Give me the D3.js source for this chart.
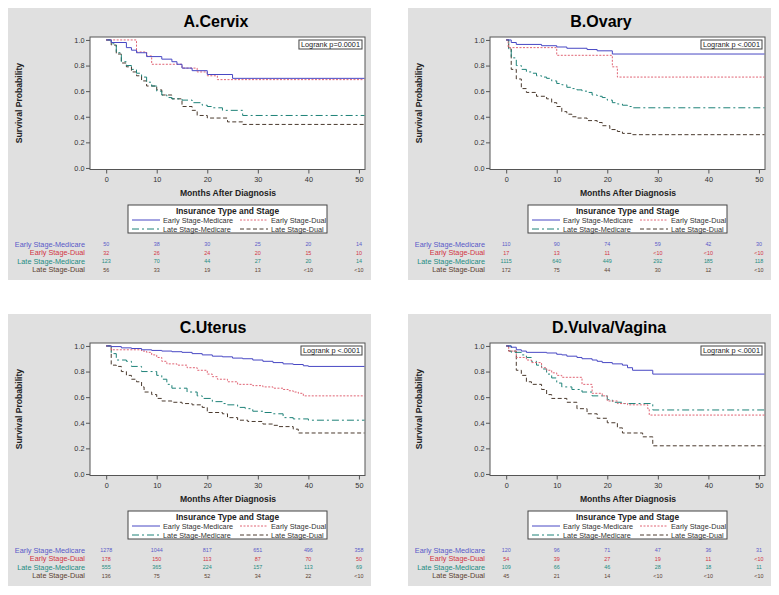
<!DOCTYPE html>
<html>
<head>
<meta charset="utf-8">
<script src="https://cdn.jsdelivr.net/npm/d3@7"></script>
<style>
  body { margin: 0; background: #fff; }
  svg text { font-family: "Liberation Sans", Arial, Helvetica, sans-serif; }
</style>
</head>
<body>
<div id="viz"></div>
<script>
// group names, in legend / risk table order
const groups = ["Early Stage-Medicare", "Early Stage-Dual", "Late Stage-Medicare", "Late Stage-Dual"];
const monthTicks = [0, 10, 20, 30, 40, 50];
const probTicks = [0, 0.2, 0.4, 0.6, 0.8, 1.0];

// A. Cervix  [month, survival]
const cervixEarlyMedicare = [[0,1],[1,0.98],[4,0.94],[5,0.92],[6,0.90],[8,0.87],[11,0.85],[13,0.83],[14,0.81],[15,0.78],[17,0.76],[20,0.73],[25,0.70]];
const cervixEarlyDual = [[0,1],[6,0.906],[8,0.875],[9,0.81],[15,0.78],[18,0.75],[20,0.72],[22,0.69]];
const cervixLateMedicare = [[0,1],[1,0.97],[2,0.90],[3,0.83],[4,0.80],[5,0.77],[6,0.74],[7,0.71],[8,0.67],[9,0.64],[10,0.60],[11,0.57],[12,0.55],[13,0.54],[15,0.53],[17,0.51],[19,0.49],[20,0.48],[21,0.47],[23,0.45],[27,0.41]];
const cervixLateDual = [[0,1],[1,0.96],[2,0.89],[3,0.82],[4,0.79],[5,0.75],[6,0.72],[7,0.68],[8,0.64],[10,0.61],[11,0.57],[13,0.54],[15,0.48],[17,0.45],[18,0.41],[20,0.39],[24,0.36],[27,0.34]];
const cervixRisk = [
  ["50", "38", "30", "25", "20", "14"],
  ["32", "26", "24", "20", "15", "10"],
  ["123", "70", "44", "27", "20", "14"],
  ["56", "33", "19", "13", "<10", "<10"]
];

// B. Ovary
const ovaryEarlyMedicare = [[0,1],[1,0.98],[2,0.965],[7,0.955],[10,0.945],[12,0.935],[16,0.925],[18,0.915],[21,0.89]];
const ovaryEarlyDual = [[0,1],[0.4,0.94],[10,0.88],[21,0.79],[22,0.71]];
const ovaryLateMedicare = [[0,1],[0.5,0.93],[1,0.86],[2,0.80],[3,0.77],[4,0.75],[5,0.74],[6,0.72],[7,0.71],[8,0.70],[9,0.68],[10,0.66],[11,0.65],[12,0.63],[13,0.62],[14,0.61],[15,0.60],[16,0.59],[17,0.57],[18,0.56],[19,0.55],[20,0.53],[21,0.51],[22,0.50],[23,0.49],[24,0.48],[25,0.47]];
const ovaryLateDual = [[0,1],[0.5,0.93],[1,0.77],[2,0.695],[3,0.62],[4,0.59],[6,0.56],[8,0.54],[9,0.51],[10,0.48],[11,0.44],[12,0.42],[13,0.40],[14,0.39],[16,0.37],[18,0.355],[19,0.33],[20.5,0.30],[22,0.285],[23,0.27],[25,0.26]];
const ovaryRisk = [
  ["110", "90", "74", "59", "42", "30"],
  ["17", "13", "11", "<10", "<10", "<10"],
  ["1115", "640", "449", "292", "185", "118"],
  ["172", "75", "44", "30", "12", "<10"]
];

// C. Uterus
const uterusEarlyMedicare = [[0,1],[1,0.995],[3,0.985],[5,0.98],[7,0.97],[9,0.965],[11,0.96],[13,0.955],[15,0.95],[17,0.94],[19,0.93],[21,0.92],[23,0.915],[25,0.905],[27,0.90],[29,0.89],[31,0.88],[33,0.87],[35,0.86],[37,0.855],[39,0.845],[40,0.84]];
const uterusEarlyDual = [[0,1],[1,0.97],[7,0.96],[8,0.95],[9,0.93],[10,0.91],[11,0.88],[12,0.86],[14,0.85],[16,0.83],[18,0.81],[20,0.78],[21,0.76],[22,0.74],[24,0.72],[26,0.70],[29,0.69],[31,0.68],[33,0.67],[35,0.66],[36,0.65],[37,0.64],[38,0.63],[39,0.61]];
const uterusLateMedicare = [[0,1],[1,0.94],[2,0.89],[4,0.88],[5,0.84],[7,0.80],[10,0.77],[11,0.74],[12,0.70],[13,0.67],[16,0.64],[18,0.61],[19,0.59],[21,0.565],[23,0.55],[24,0.54],[26,0.52],[27.5,0.51],[29,0.49],[31,0.48],[33,0.47],[35,0.44],[37,0.43],[40,0.42]];
const uterusLateDual = [[0,1],[1,0.85],[2,0.84],[3,0.80],[4,0.77],[5,0.74],[6,0.72],[7,0.68],[7.5,0.64],[9,0.62],[10,0.59],[11,0.57],[13,0.56],[15,0.55],[17,0.54],[19,0.52],[20,0.48],[23,0.47],[24,0.44],[26,0.42],[28,0.41],[31,0.39],[33,0.38],[34,0.37],[37,0.35],[38,0.32]];
const uterusRisk = [
  ["1278", "1044", "817", "651", "496", "358"],
  ["178", "150", "113", "87", "70", "50"],
  ["555", "365", "224", "157", "113", "69"],
  ["136", "75", "52", "34", "22", "<10"]
];

// D. Vulva/Vagina
const vulvaEarlyMedicare = [[0,1],[1,0.99],[2,0.97],[3,0.96],[4,0.95],[8,0.945],[10,0.935],[11,0.93],[12,0.92],[14,0.91],[15,0.90],[17,0.89],[18,0.88],[19,0.87],[21,0.86],[23,0.85],[24,0.83],[25,0.81],[29,0.78]];
const vulvaEarlyDual = [[0,1],[0.5,0.96],[2,0.91],[4,0.89],[5,0.87],[7,0.83],[8,0.81],[9,0.79],[10,0.77],[11,0.755],[15,0.70],[17,0.63],[19,0.61],[20,0.57],[22,0.55],[24,0.54],[28,0.51],[28.3,0.46]];
const vulvaLateMedicare = [[0,1],[1,0.95],[3,0.93],[4,0.91],[5,0.88],[6,0.85],[7,0.82],[8,0.78],[9,0.75],[10,0.71],[11,0.68],[13,0.66],[15,0.64],[17,0.61],[20,0.58],[21,0.56],[23,0.55],[29,0.50]];
const vulvaLateDual = [[0,1],[0.5,0.96],[2,0.81],[3,0.77],[4,0.72],[5,0.70],[7,0.66],[8,0.62],[9,0.59],[12,0.56],[14,0.51],[16,0.47],[18,0.435],[20,0.40],[22,0.36],[23,0.32],[27,0.29],[29,0.22]];
const vulvaRisk = [
  ["120", "96", "71", "47", "36", "31"],
  ["54", "39", "27", "19", "11", "<10"],
  ["109", "66", "46", "28", "18", "11"],
  ["45", "21", "14", "<10", "<10", "<10"]
];

const panels = [
  { title: "A.Cervix", logrank: "Logrank p=0.0001", curves: [cervixEarlyMedicare, cervixEarlyDual, cervixLateMedicare, cervixLateDual], risk: cervixRisk },
  { title: "B.Ovary", logrank: "Logrank p <.0001", curves: [ovaryEarlyMedicare, ovaryEarlyDual, ovaryLateMedicare, ovaryLateDual], risk: ovaryRisk },
  { title: "C.Uterus", logrank: "Logrank p <.0001", curves: [uterusEarlyMedicare, uterusEarlyDual, uterusLateMedicare, uterusLateDual], risk: uterusRisk },
  { title: "D.Vulva/Vagina", logrank: "Logrank p <.0001", curves: [vulvaEarlyMedicare, vulvaEarlyDual, vulvaLateMedicare, vulvaLateDual], risk: vulvaRisk }
];

const config = {
  width: 779,
  height: 595,
  panelOffsets: [[0, 0], [400, 0], [0, 306], [400, 306]],
  titleX: [216, 201, 213, 209],
  bg: "#e0e0e0",
  frame: { left: 90, right: 365, top: 37, bottom: 169.5 },
  lineColors: ["#4848c4", "#e06474", "#1e8278", "#4a3a2e"],
  textColors: ["#5a5ac8", "#d23444", "#1e8c82", "#5c4030"],
  dashes: [null, "2,1.5", "7,3,2,3", "4,2.5"],
  riskRowsY: [244, 252.5, 261, 269.5],
};

const x = d3.scaleLinear().domain([-3.2, 51.2]).range([config.frame.left, config.frame.right]);
const y = d3.scaleLinear().domain([-0.012, 1.023]).range([config.frame.bottom, config.frame.top]);

const stepLine = d3.line()
  .x((d) => x(d[0]))
  .y((d) => y(d[1]))
  .curve(d3.curveStepAfter);

const svg = d3.select("#viz").append("svg")
  .attr("width", config.width)
  .attr("height", config.height);

const drawLegend = (g) => {
  g.append("rect")
    .attr("x", 128).attr("y", 205).attr("width", 199).attr("height", 28)
    .attr("fill", "#fff").attr("stroke", "#444").attr("stroke-width", 1);
  g.append("text")
    .attr("x", 227.5).attr("y", 214.3)
    .attr("text-anchor", "middle")
    .attr("font-size", 8.4).attr("font-weight", "bold").attr("fill", "#222")
    .text("Insurance Type and Stage");

  groups.forEach((name, i) => {
    const col = i % 2;
    const row = Math.floor(i / 2);
    const lx = col === 0 ? 132 : 240;
    const ly = 220 + row * 9;
    g.append("line")
      .attr("x1", lx).attr("x2", lx + 28).attr("y1", ly).attr("y2", ly)
      .attr("stroke", config.lineColors[i]).attr("stroke-width", 1)
      .attr("stroke-dasharray", config.dashes[i]);
    g.append("text")
      .attr("x", lx + 31).attr("y", ly + 2.6)
      .attr("font-size", 7.3).attr("fill", "#333")
      .text(name);
  });
};

const drawRiskTable = (g, risk) => {
  risk.forEach((row, i) => {
    const ry = config.riskRowsY[i];
    g.append("text")
      .attr("x", 85).attr("y", ry + 2.6)
      .attr("text-anchor", "end")
      .attr("font-size", 7.3).attr("fill", config.textColors[i])
      .text(groups[i]);
    row.forEach((v, j) => {
      g.append("text")
        .attr("x", x(monthTicks[j])).attr("y", ry + 2)
        .attr("text-anchor", "middle")
        .attr("font-size", 5.4).attr("fill", config.textColors[i])
        .text(v);
    });
  });
};

const drawPanel = (panel, idx) => {
  const [ox, oy] = config.panelOffsets[idx];
  const g = svg.append("g").attr("transform", `translate(${ox},${oy})`);
  const f = config.frame;

  g.append("rect")
    .attr("x", 8).attr("y", 8).attr("width", 363).attr("height", 272)
    .attr("fill", config.bg);

  g.append("text")
    .attr("x", config.titleX[idx]).attr("y", 27)
    .attr("text-anchor", "middle")
    .attr("font-size", 16).attr("font-weight", "bold").attr("fill", "#000")
    .text(panel.title);

  g.append("rect")
    .attr("x", f.left).attr("y", f.top)
    .attr("width", f.right - f.left).attr("height", f.bottom - f.top)
    .attr("fill", "#fff").attr("stroke", "#555").attr("stroke-width", 1);

  const yAxis = g.append("g")
    .attr("transform", `translate(${f.left},0)`)
    .call(d3.axisLeft(y).tickValues(probTicks).tickFormat(d3.format(".1f")).tickSize(4).tickPadding(1.5));
  const xAxis = g.append("g")
    .attr("transform", `translate(0,${f.bottom})`)
    .call(d3.axisBottom(x).tickValues(monthTicks).tickSize(4).tickPadding(3));
  [xAxis, yAxis].forEach((a) => {
    a.select(".domain").remove();
    a.selectAll(".tick line").attr("stroke", "#555");
    a.selectAll(".tick text").attr("font-size", 7.3).attr("fill", "#333")
      .attr("font-family", '"Liberation Sans", Arial, sans-serif');
  });

  g.append("text")
    .attr("transform", "translate(22,103) rotate(-90)")
    .attr("text-anchor", "middle")
    .attr("font-size", 8.6).attr("font-weight", "bold").attr("fill", "#222")
    .text("Survival Probability");

  g.append("text")
    .attr("x", 228).attr("y", 196)
    .attr("text-anchor", "middle")
    .attr("font-size", 8.6).attr("font-weight", "bold").attr("fill", "#222")
    .text("Months After Diagnosis");

  // curves, drawn late-stage first so early lines sit on top
  [3, 2, 1, 0].forEach((i) => {
    const pts = panel.curves[i];
    const last = pts[pts.length - 1];
    g.append("path")
      .datum(pts.concat([[x.domain()[1] - 0.1, last[1]]]))
      .attr("d", stepLine)
      .attr("fill", "none")
      .attr("stroke", config.lineColors[i])
      .attr("stroke-width", 1)
      .attr("stroke-dasharray", config.dashes[i]);
  });

  // logrank box, right aligned in the plot
  const lbox = g.append("rect")
    .attr("y", 40).attr("height", 9)
    .attr("fill", "#fff").attr("stroke", "#444").attr("stroke-width", 1);
  const lt = g.append("text")
    .attr("y", 47)
    .attr("font-size", 7.3).attr("fill", "#222")
    .text(panel.logrank);
  const tw = lt.node().getComputedTextLength();
  const bx = f.right - 3 - tw - 4;
  lt.attr("x", bx + 2);
  lbox.attr("x", bx).attr("width", tw + 4);

  drawLegend(g);
  drawRiskTable(g, panel.risk);
};

panels.forEach(drawPanel);
</script>
</body>
</html>
